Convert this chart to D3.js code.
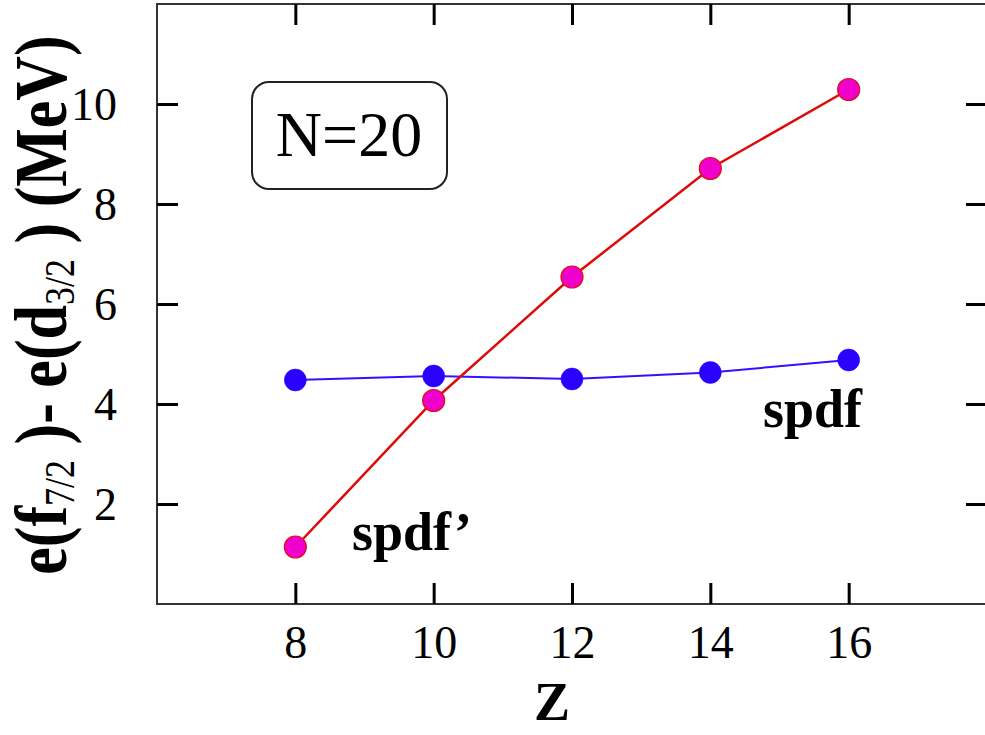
<!DOCTYPE html>
<html>
<head>
<meta charset="utf-8">
<script src="https://cdn.jsdelivr.net/npm/d3@7"></script>
<style>
  html, body { margin: 0; padding: 0; background: #fff; }
  svg { display: block; }
</style>
</head>
<body>
<script>
// ---- data ----
const zValues = [8, 10, 12, 14, 16];
const spdfPrime = [1.14, 4.07, 6.54, 8.71, 10.29];   // red line, magenta markers
const spdf = [4.48, 4.56, 4.50, 4.63, 4.88];         // blue line
const xTicks = [8, 10, 12, 14, 16];
const yTicks = [2, 4, 6, 8, 10];
const xDomain = [6, 18];
const yDomain = [0, 12];

const W = 985, H = 735;
const svg = d3.select("body").append("svg").attr("width", W).attr("height", H);

const x = d3.scaleLinear().domain(xDomain).range([157, 987]);
const y = d3.scaleLinear().domain(yDomain).range([604, 4]);

const serif = "'Liberation Serif', 'Times New Roman', serif";

// frame
svg.append("rect")
  .attr("x", x(xDomain[0])).attr("y", y(yDomain[1]))
  .attr("width", x(xDomain[1]) - x(xDomain[0]))
  .attr("height", y(yDomain[0]) - y(yDomain[1]))
  .attr("fill", "none").attr("stroke", "#333").attr("stroke-width", 2);

const tickLen = 21;
const xAxisB = d3.axisBottom(x).tickValues(xTicks).tickSizeInner(-tickLen).tickSizeOuter(0).tickPadding(32);
const gB = svg.append("g").attr("transform", `translate(0,${y(yDomain[0])})`).call(xAxisB);
const xAxisT = d3.axisTop(x).tickValues(xTicks).tickSizeInner(-tickLen).tickSizeOuter(0).tickFormat("");
const gT = svg.append("g").attr("transform", `translate(0,${y(yDomain[1])})`).call(xAxisT);
const yAxisL = d3.axisLeft(y).tickValues(yTicks).tickSizeInner(-tickLen).tickSizeOuter(0).tickPadding(40);
const gL = svg.append("g").attr("transform", `translate(${x(xDomain[0])},0)`).call(yAxisL);
const yAxisR = d3.axisRight(y).tickValues(yTicks).tickSizeInner(-tickLen).tickSizeOuter(0).tickFormat("");
const gR = svg.append("g").attr("transform", `translate(${x(xDomain[1])},0)`).call(yAxisR);

[gB, gT, gL, gR].forEach(g => {
  g.select(".domain").remove();
  g.selectAll(".tick line").attr("stroke", "#000").attr("stroke-width", 3);
  g.selectAll(".tick text").attr("font-family", serif).attr("font-size", 46).attr("fill", "#000");
});
gB.selectAll(".tick text").attr("dy", null).attr("y", 54);
gL.selectAll(".tick text").attr("dy", "0.34em");

// lines
const line = d3.line().x((d, i) => x(zValues[i])).y(d => y(d));

svg.append("path").datum(spdf)
  .attr("d", line).attr("fill", "none").attr("stroke", "#3311ff").attr("stroke-width", 2);
svg.append("path").datum(spdfPrime)
  .attr("d", line).attr("fill", "none").attr("stroke", "#dd0a0a").attr("stroke-width", 2.5);

svg.append("g").selectAll("circle").data(spdf).join("circle")
  .attr("cx", (d, i) => x(zValues[i])).attr("cy", d => y(d)).attr("r", 11)
  .attr("fill", "#2a00ff").attr("stroke", "#2a00ff").attr("stroke-width", 0.5);
svg.append("g").selectAll("circle").data(spdfPrime).join("circle")
  .attr("cx", (d, i) => x(zValues[i])).attr("cy", d => y(d)).attr("r", 11)
  .attr("fill", "#f000cc").attr("stroke", "#e01010").attr("stroke-width", 1.2);

// series labels
svg.append("text").attr("x", 352).attr("y", 550)
  .attr("font-family", serif).attr("font-weight", "bold").attr("font-size", 54)
  .text("spdf\u2019");
svg.append("text").attr("x", 763).attr("y", 427)
  .attr("font-family", serif).attr("font-weight", "bold").attr("font-size", 54)
  .text("spdf");

// N=20 box
svg.append("rect").attr("x", 252).attr("y", 82).attr("width", 195).attr("height", 107)
  .attr("rx", 17).attr("fill", "#fff").attr("stroke", "#222").attr("stroke-width", 2);
svg.append("text").attr("x", 349).attr("y", 156).attr("text-anchor", "middle")
  .attr("font-family", serif).attr("font-size", 64).text("N=20");

// x-axis label
svg.append("text").attr("x", 552).attr("y", 720).attr("text-anchor", "middle")
  .attr("font-family", serif).attr("font-weight", "bold").attr("font-size", 54).text("Z");

// y-axis label
const yl = svg.append("text")
  .attr("transform", "translate(66,305) rotate(-90) scale(1,1.2)")
  .attr("text-anchor", "middle")
  .attr("font-family", serif).attr("font-weight", "bold").attr("font-size", 62);
yl.append("tspan").text("e(f");
yl.append("tspan").attr("font-size", 36).attr("font-weight", "normal").attr("dy", 7).text("7/2");
yl.append("tspan").attr("dy", -7).text(" )- e(d");
yl.append("tspan").attr("font-size", 36).attr("font-weight", "normal").attr("dy", 7).text("3/2");
yl.append("tspan").attr("dy", -7).text(" ) (MeV)");
</script>
</body>
</html>
